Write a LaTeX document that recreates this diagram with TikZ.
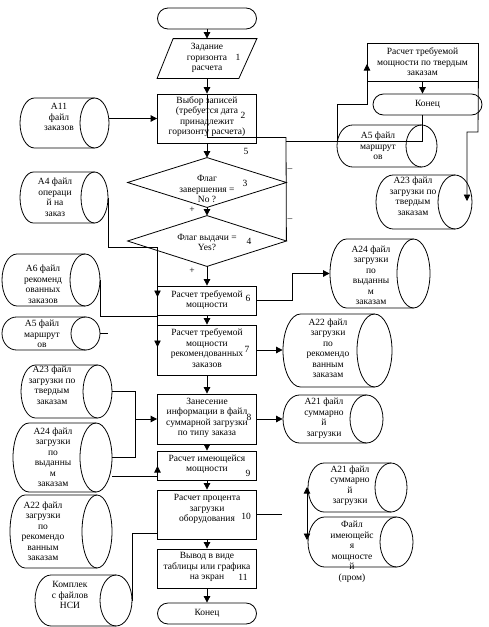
\documentclass[tikz,border=0pt]{standalone}
\usepackage{fontspec}
\setmainfont{Liberation Serif}
\usetikzlibrary{arrows.meta,shapes.misc,calc}
\newcommand\mycyl[6]{%
  \pgfmathsetmacro\cyA{#2+#6}%
  \pgfmathsetmacro\cyB{#4-#6}%
  \pgfmathsetmacro\cyM{(#3+#5)/2}%
  \pgfmathsetmacro\cyR{(#5-#3)/2}%
  \pgfmathsetmacro\cyKx{0.5523*#6}%
  \pgfmathsetmacro\cyKy{0.5523*\cyR}%
  \pgfmathsetmacro\cyW{#4-#2}%
  \pgfmathsetmacro\cyH{#5-#3}%
  \pgfmathsetmacro\cyC{(#2+#4)/2}%
  \draw (\cyA,#3) -- (\cyB,#3) (\cyB,#5) -- (\cyA,#5)
     .. controls ({\cyA-\cyKx},#5) and (#2,{\cyM+\cyKy}) .. (#2,\cyM)
     .. controls (#2,{\cyM-\cyKy}) and ({\cyA-\cyKx},#3) .. (\cyA,#3);
  \draw (\cyB,\cyM) ellipse [x radius=#6, y radius=\cyR];
  \node[frame, minimum width=\cyW pt, minimum height=\cyH pt] (#1) at (\cyC,\cyM) {};
}
\begin{document}
\begin{tikzpicture}[x=1pt,y=-1pt, line width=0.8pt,
  arr/.style={-{Triangle[length=6.5pt,width=6.5pt]}},
  darr/.style={{Triangle[length=6.5pt,width=6.5pt]}-{Triangle[length=6.5pt,width=6.5pt]}},
  box/.style={draw, rectangle, minimum width=99pt, inner sep=0},
  term/.style={draw, rounded rectangle, minimum width=99pt, minimum height=21pt, inner sep=0, font=\fontsize{9.5}{10.5}\selectfont},
  frame/.style={inner sep=0, draw=none, rectangle},
  txt/.style={align=center, inner sep=0, font=\fontsize{9.5}{10.5}\selectfont},
  num/.style={inner sep=0, font=\fontsize{9.5}{10.5}\selectfont}]
\useasboundingbox (0,0) rectangle (489,627);

% ---------- main column ----------
\node[term] (start) at (207,18.5) {};
\node[frame, minimum width=99pt, minimum height=39pt] (p1) at (207,58.5) {};
\draw ([xshift=16pt]p1.north west) -- (p1.north east) -- ([xshift=-18pt]p1.south east) -- (p1.south west) -- cycle;
\node[txt] (tp1) at (207,58) {Задание\\горизонта\\расчета};

\node[box, minimum height=49pt] (b2) at (207,118.5) {};
\node[txt] (tb2) at (207,116.5) {Выбор записей\\(требуется дата\\принадлежит\\горизонту расчета)};

\node[frame, minimum width=158pt, minimum height=49pt] (d3) at (207,182.5) {};
\draw (d3.north) -- (d3.east) -- (d3.south) -- (d3.west) -- cycle;
\node[txt] (td3) at (207,189) {Флаг\\завершения =\\No ?};

\node[frame, minimum width=158pt, minimum height=50pt] (d4) at (207,241) {};
\draw (d4.north) -- (d4.east) -- (d4.south) -- (d4.west) -- cycle;
\node[txt] (td4) at (207,242.5) {Флаг выдачи =\\Yes?};

\node[box, minimum height=29pt] (b6) at (207,300.5) {};
\node[txt] (tb6) at (207,300) {Расчет требуемой\\мощности};
\node[box, minimum height=50pt] (b7) at (207,350) {};
\node[txt] (tb7) at (207,348) {Расчет требуемой\\мощности\\рекомендованных\\заказов};
\node[box, minimum height=50pt] (b8) at (207,419) {};
\node[txt] (tb8) at (207,418) {Занесение\\информации в файл\\суммарной загрузки\\по типу заказа};
\node[box, minimum height=29pt] (b9) at (207,465.5) {};
\node[txt] (tb9) at (207,464) {Расчет имеющейся\\мощности};
\node[box, minimum height=49pt] (b10) at (207,514.5) {};
\node[txt] (tb10) at (207,509) {Расчет процента\\загрузки\\оборудования};
\node[box, minimum height=39pt] (b11) at (207,568.5) {};
\node[txt] (tb11) at (207,567) {Вывод в виде\\таблицы или графика\\на экран};
\node[term] (end) at (207,613.5) {Конец};

% numbers and signs
\node[num] (n1) at (238,57) {1};
\node[num] (n2) at (243,115) {2};
\node[num] (n5) at (246,151) {5};
\node[num] (n3) at (245,183) {3};
\node[num] (n4) at (249,241) {4};
\node[num] (n6) at (248,298) {6};
\node[num] (n7) at (247,349) {7};
\node[num] (n8) at (249,417) {8};
\node[num] (n9) at (248,473) {9};
\node[num] (n10) at (246,516) {10};
\node[num] (n11) at (243,577) {11};
\node[num] (pl1) at (192,210) {+};
\node[num] (pl2) at (192,271) {+};
\node[num] (mi1) at (290,170) {–};
\node[num] (mi2) at (290,220) {–};

% ---------- right column ----------
\node[box, minimum width=111pt, minimum height=38pt] (bT) at (422.5,62) {};
\node[txt] (tbT) at (422.5,62) {Расчет требуемой\\мощности по твердым\\заказам};
\node[term, minimum width=109pt] (end2) at (427.5,104.5) {Конец};

% ---------- cylinders ----------
\mycyl{cA11}{20}{98}{109}{148}{14.5}
\node[txt] (tA11) at (59,117) {А11\\файл\\заказов};
\mycyl{cA4}{20}{172}{108}{223}{13.5}
\node[txt] (tA4) at (55,197) {А4 файл\\операци\\й на\\заказ};
\mycyl{cA6}{2}{254}{100}{306}{15}
\node[txt] (tA6) at (43,284) {А6 файл\\рекоменд\\ованных\\заказов};
\mycyl{cA5L}{2}{317}{100}{350}{14.5}
\node[txt] (tA5L) at (42,334) {А5 файл\\маршрут\\ов};
\mycyl{cA23L}{21}{365}{112}{418}{14.5}
\node[txt] (tA23L) at (52,385) {А23 файл\\загрузки по\\твердым\\заказам};
\mycyl{cA24L}{13}{423}{112}{492}{16}
\node[txt] (tA24L) at (53,457) {А24 файл\\загрузки\\по\\выданны\\м\\заказам};
\mycyl{cA22L}{10}{495}{112}{568}{15}
\node[txt] (tA22L) at (43,531) {А22 файл\\загрузки\\по\\рекомендо\\ванным\\заказам};
\mycyl{cKN}{35}{575}{132}{626}{16}
\node[txt] (tKN) at (70,595) {Комплек\\с файлов\\НСИ};

\mycyl{cA5R}{337}{125}{437}{167}{15.5}
\node[txt] (tA5R) at (378,146) {А5 файл\\маршрут\\ов};
\mycyl{cA23R}{376}{175}{472}{229}{17}
\node[txt] (tA23R) at (413,196) {А23 файл\\загрузки по\\твердым\\заказам};
\mycyl{cA24R}{330}{239}{430}{308}{16.5}
\node[txt] (tA24R) at (371,275) {А24 файл\\загрузки\\по\\выданны\\м\\заказам};
\mycyl{cA22R}{283}{314}{392}{387}{17.5}
\node[txt] (tA22R) at (328,348) {А22 файл\\загрузки\\по\\рекомендо\\ванным\\заказам};
\mycyl{cA21R}{283}{395}{383}{443}{16.5}
\node[txt] (tA21R) at (324,418) {А21 файл\\суммарно\\й\\загрузки};
\mycyl{cA21B}{308}{463}{407}{512}{16}
\node[txt] (tA21B) at (350,485.5) {А21 файл\\суммарно\\й\\загрузки};
\mycyl{cFile}{308}{517}{413}{567}{16.5}
\node[txt] (tFile) at (352,552) {Файл\\имеющейс\\я\\мощносте\\й\\(пром)};

% ---------- coordinates ----------
\coordinate (jA) at (286,137);
\coordinate (jB) at (286,141);
\coordinate (jC) at (337,141);
\coordinate (jD) at (422,141);
\coordinate (jE) at (367,104);
\coordinate (jF) at (367,64);
\coordinate (jG) at (478,132);
\coordinate (jH) at (467,132);
\coordinate (jI) at (467,201);
\coordinate (k4) at (157.5,247);
\coordinate (k4e) at (157.5,297);
\coordinate (k6) at (157.5,316);
\coordinate (k6e) at (157.5,347);
\coordinate (k5) at (108,333.5);
\coordinate (k8) at (135,419);
\coordinate (k9a) at (157.5,476);
\coordinate (k9b) at (157.5,466);
\coordinate (kN) at (157.5,533);
\coordinate (k24) at (292,300.5);
\coordinate (k10) at (282,514.5);
\coordinate (dd1) at (307,487);
\coordinate (dd2) at (307,540);

% ---------- connectors ----------
\draw[arr] (start.south) -- (p1.north);
\draw[arr] (p1.south) -- (b2.north);
\draw (b2.north) -- (b2.north |- jA) -- (jA);
\draw[arr] (b2.south) -- (d3.north);
\draw[arr] (d3.south) -- (d4.north);
\draw[arr] (d4.south) -- (b6.north);
\draw[arr] (b6.south) -- (b7.north);
\draw[arr] (b7.south) -- (b8.north);
\draw[arr] (b8.south) -- (b9.north);
\draw[arr] (b9.south) -- (b10.north);
\draw[arr] (b10.south) -- (b11.north);
\draw[arr] (b11.south) -- (end.north);

\draw (jA) -- (d4.east);
\draw (jB) -- (jD) -- (jD |- end2.south);
\draw[arr] (jC) |- (jE) -- (jF);
\draw[arr] (bT.south) -- (bT.south |- end2.north);
\draw[arr] (bT.south east) -- (jG) -- (jH) -- (jI);

\draw[arr] (cA11.east |- b2.west) -- (b2.west);
\draw[arr] (cA4.east) |- (k4) -- (k4e);
\draw[arr] (cA6.east) |- (k6) -- (k6e);
\draw (cA5L.east) -- (k5);
\draw[arr] (cA23L.east) -| (k8) -- (b8.west);
\draw (cA24L.east) -| (k8);
\draw[arr] (cA24L.east |- k9a) -- (k9a) -- (k9b);
\draw (cKN.east) |- (kN);

\draw[arr] (b6.east) -- (k24) |- (cA24R.west);
\draw[arr] (b7.east) -- (b7.east -| cA22R.west);
\draw[arr] (b8.east) -- (b8.east -| cA21R.west);
\draw (b10.east) -- (k10);
\draw[darr] (dd1) -- (dd2);
\end{tikzpicture}
\end{document}
